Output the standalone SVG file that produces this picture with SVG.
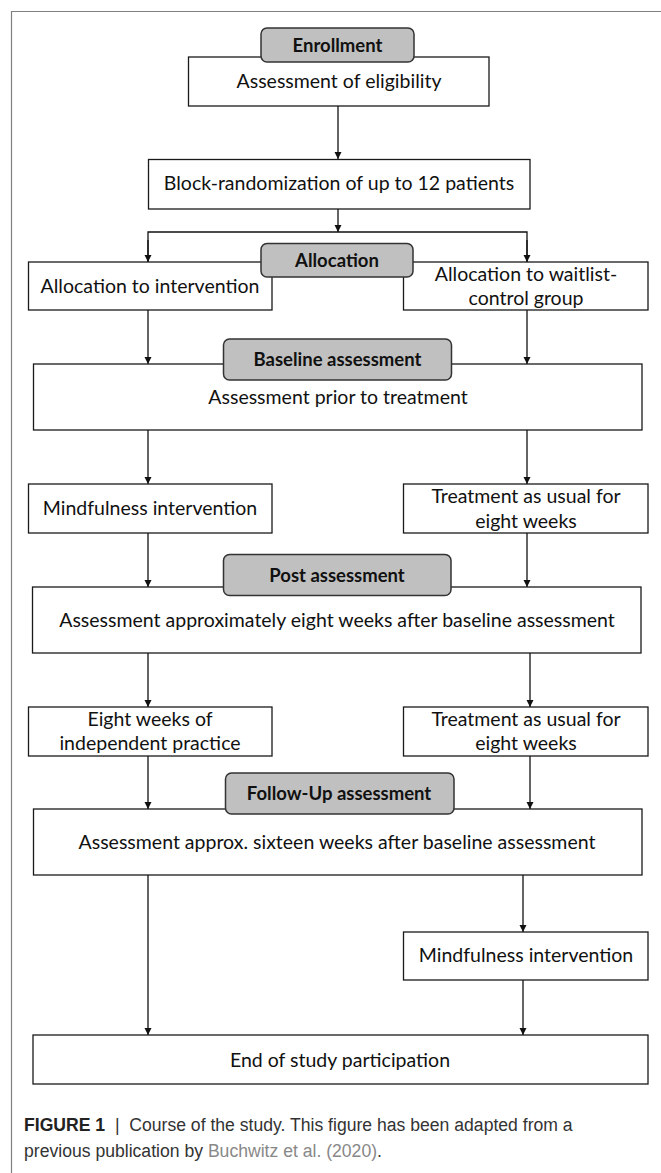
<svg xmlns="http://www.w3.org/2000/svg" width="661" height="1173" viewBox="0 0 661 1173">
<style>
.box{fill:#fff;stroke:#1a1a1a;stroke-width:1.3}
.tag{fill:#c0c0c0;stroke:#333;stroke-width:1.5}
.t{font-family:Lato,"Open Sans",sans-serif;font-size:19.5px;fill:#111;text-anchor:middle}
.b{font-family:Lato,"Open Sans",sans-serif;font-size:18.5px;font-weight:bold;fill:#111;text-anchor:middle}
.c{font-family:"Liberation Sans",Arial,sans-serif;font-size:17.6px;fill:#333}
.ln{stroke:#111;stroke-width:1.3;fill:none}
</style>
<defs>
<marker id="ah" markerUnits="userSpaceOnUse" markerWidth="7" markerHeight="8" refX="7" refY="3.5" orient="auto">
<path d="M0,0 L7,3.5 L0,7 z" fill="#111"/>
</marker>
</defs>
<rect width="661" height="1173" fill="#fff"/>
<path d="M11.5,1173 V11.5 H661" fill="none" stroke="#808080" stroke-width="1.2"/>

<g id="connectors">
<path class="ln" d="M338,106 V159" marker-end="url(#ah)"/>
<path class="ln" d="M338,209 V232" marker-end="url(#ah)"/>
<path class="ln" d="M148,262 V232 H527 V262"/>
<path class="ln" d="M148,240 V262" marker-end="url(#ah)"/>
<path class="ln" d="M527,240 V262" marker-end="url(#ah)"/>
<path class="ln" d="M148,310 V364" marker-end="url(#ah)"/>
<path class="ln" d="M527,310 V364" marker-end="url(#ah)"/>
<path class="ln" d="M148,430 V484" marker-end="url(#ah)"/>
<path class="ln" d="M527,430 V484" marker-end="url(#ah)"/>
<path class="ln" d="M148,533 V587" marker-end="url(#ah)"/>
<path class="ln" d="M527,533 V587" marker-end="url(#ah)"/>
<path class="ln" d="M148,653 V707" marker-end="url(#ah)"/>
<path class="ln" d="M530,653 V707" marker-end="url(#ah)"/>
<path class="ln" d="M148,756 V809" marker-end="url(#ah)"/>
<path class="ln" d="M530,756 V809" marker-end="url(#ah)"/>
<path class="ln" d="M148,875 V1035" marker-end="url(#ah)"/>
<path class="ln" d="M523,875 V932" marker-end="url(#ah)"/>
<path class="ln" d="M523,980 V1035" marker-end="url(#ah)"/>
</g>

<g id="eligibility">
<rect class="box" x="188.5" y="57" width="300.5" height="49"/>
<text class="t" x="339" y="88">Assessment of eligibility</text>
</g>
<g id="enrollment">
<rect class="tag" x="261" y="28" width="153" height="34" rx="6"/>
<text class="b" x="337.5" y="52">Enrollment</text>
</g>

<g id="randomization">
<rect class="box" x="148.5" y="159.5" width="381.5" height="49.5"/>
<text class="t" x="339" y="190">Block-randomization of up to 12 patients</text>
</g>

<g id="alloc-intervention">
<rect class="box" x="28.5" y="262" width="243.5" height="48"/>
<text class="t" x="150" y="293">Allocation to intervention</text>
</g>
<g id="alloc-waitlist">
<rect class="box" x="403.5" y="262" width="244.5" height="48"/>
<text class="t" x="526" y="281">Allocation to waitlist-</text>
<text class="t" x="526" y="305">control group</text>
</g>
<g id="allocation">
<rect class="tag" x="261" y="243.5" width="152" height="33.5" rx="6"/>
<text class="b" x="337" y="267">Allocation</text>
</g>

<g id="prior">
<rect class="box" x="33.5" y="364" width="608.5" height="66"/>
<text class="t" x="338" y="404">Assessment prior to treatment</text>
</g>
<g id="baseline">
<rect class="tag" x="223.5" y="339" width="228" height="41" rx="6"/>
<text class="b" x="337.5" y="366">Baseline assessment</text>
</g>

<g id="mindfulness-1">
<rect class="box" x="28.5" y="484" width="243.5" height="49"/>
<text class="t" x="150" y="515">Mindfulness intervention</text>
</g>
<g id="tau-1">
<rect class="box" x="403.5" y="484" width="244.5" height="49"/>
<text class="t" x="526" y="503">Treatment as usual for</text>
<text class="t" x="526" y="528">eight weeks</text>
</g>

<g id="post-box">
<rect class="box" x="32.5" y="587" width="608.5" height="66"/>
<text class="t" x="337" y="627">Assessment approximately eight weeks after baseline assessment</text>
</g>
<g id="post">
<rect class="tag" x="223.5" y="554.5" width="227.5" height="41" rx="6"/>
<text class="b" x="337" y="582">Post assessment</text>
</g>

<g id="practice">
<rect class="box" x="28.5" y="707" width="243.5" height="49"/>
<text class="t" x="150" y="726">Eight weeks of</text>
<text class="t" x="150" y="750">independent practice</text>
</g>
<g id="tau-2">
<rect class="box" x="403.5" y="707" width="244.5" height="49"/>
<text class="t" x="526" y="726">Treatment as usual for</text>
<text class="t" x="526" y="750">eight weeks</text>
</g>

<g id="followup-box">
<rect class="box" x="33.5" y="809" width="608.5" height="66"/>
<text class="t" x="337" y="849">Assessment approx. sixteen weeks after baseline assessment</text>
</g>
<g id="followup">
<rect class="tag" x="225.5" y="773" width="228.5" height="41" rx="6"/>
<text class="b" x="339" y="800">Follow-Up assessment</text>
</g>

<g id="mindfulness-2">
<rect class="box" x="403.5" y="932" width="244.5" height="48"/>
<text class="t" x="526" y="962">Mindfulness intervention</text>
</g>

<g id="end">
<rect class="box" x="33" y="1035" width="615" height="49"/>
<text class="t" x="340" y="1067">End of study participation</text>
</g>

<g id="caption">
<text class="c" x="24" y="1131"><tspan font-weight="bold" fill="#222">FIGURE 1</tspan><tspan xml:space="preserve">  |  Course of the study. This figure has been adapted from a</tspan></text>
<text class="c" x="24" y="1157">previous publication by <tspan fill="#888">Buchwitz et al. (2020)</tspan>.</text>
</g>
</svg>
